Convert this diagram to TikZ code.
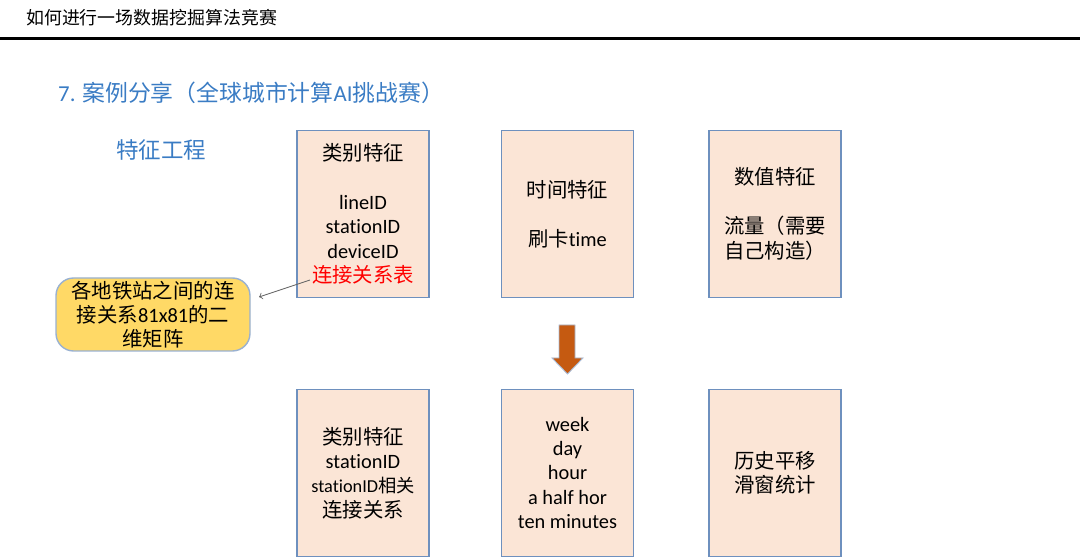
\documentclass[tikz,border=0pt]{standalone}
\usepackage{fontspec}
\setmainfont{Noto Sans CJK SC}
\newfontfamily\en[Ligatures=NoCommon]{Carlito}
\definecolor{TitleBlue}{RGB}{58, 124, 196}
\definecolor{BoxFill}{RGB}{251, 229, 214}
\definecolor{BoxLine}{RGB}{110, 144, 190}
\definecolor{NoteFill}{RGB}{255, 217, 102}
\definecolor{DownArrow}{RGB}{197, 90, 17}
\tikzset{
featbox/.style={draw=BoxLine, fill=BoxFill, line width=0.8pt, minimum width=132*0.02cm, minimum height=167*0.02cm, inner sep=0pt, align=center, font=\fontsize{11.6pt}{13.9pt}\selectfont},
notebox/.style={draw=BoxLine!70, fill=NoteFill, rounded corners=10pt, line width=0.8pt, minimum width=194*0.02cm, minimum height=73*0.02cm, inner sep=0pt, align=center, font=\fontsize{11.6pt}{13.6pt}\selectfont}
}
\begin{document}
\begin{tikzpicture}[x=0.02cm, y=-0.02cm]
\useasboundingbox (0,0) rectangle (1080,557);
% header
\node[anchor=west, font=\fontsize{10.2pt}{12pt}\selectfont] (head) at (20,18) {如何进行一场数据挖掘算法竞赛};
\draw[line width=1.7pt] (0,38.5) -- (1080,38.5);
\node[anchor=west, text=TitleBlue, font=\fontsize{13pt}{15pt}\selectfont] (title) at (52,93) {{\en 7.} 案例分享（全球城市计算{\en AI}挑战赛）};
\node[anchor=west, text=TitleBlue, font=\fontsize{12.8pt}{15pt}\selectfont] (fe) at (110,150) {特征工程};
% top row
\node[featbox] (cat) at (363,214) {类别特征\\ \mbox{}\\ {\en lineID}\\ {\en stationID}\\ {\en deviceID}\\ \textcolor{red}{连接关系表}};
\node[featbox] (time) at (567.5,214) {时间特征\\ \mbox{}\\ 刷卡{\en time}};
\node[featbox] (num) at (775,214) {数值特征\\ \mbox{}\\ 流量（需要\\ 自己构造）};
% bottom row
\node[featbox] (cat2) at (363,473) {类别特征\\ {\en stationID}\\ {\fontsize{10.4pt}{13.9pt}\selectfont\en stationID}{\fontsize{10.4pt}{13.9pt}\selectfont 相关}\\ 连接关系};
\node[featbox] (time2) at (567.5,473) {\en week\\ \en day\\ \en hour\\ \en a half hor\\ \en ten minutes};
\node[featbox] (num2) at (775,473) {历史平移\\ 滑窗统计};
% note
\node[notebox] (note) at (153,314.5) {各地铁站之间的连\\ 接关系{\en 81x81}的二\\ 维矩阵};
\coordinate (tail) at (310,280);
\coordinate (tip) at (259,297);
\draw[->, gray!80!black, line width=0.5pt] (tail) -- (tip);
% block arrow
\draw[fill=DownArrow, draw=BoxLine!60, line width=0.5pt] (559,325) -- (575,325) -- (575,358) -- (583,358) -- (567.5,374) -- (552,358) -- (559,358) -- cycle;
\end{tikzpicture}
\end{document}
